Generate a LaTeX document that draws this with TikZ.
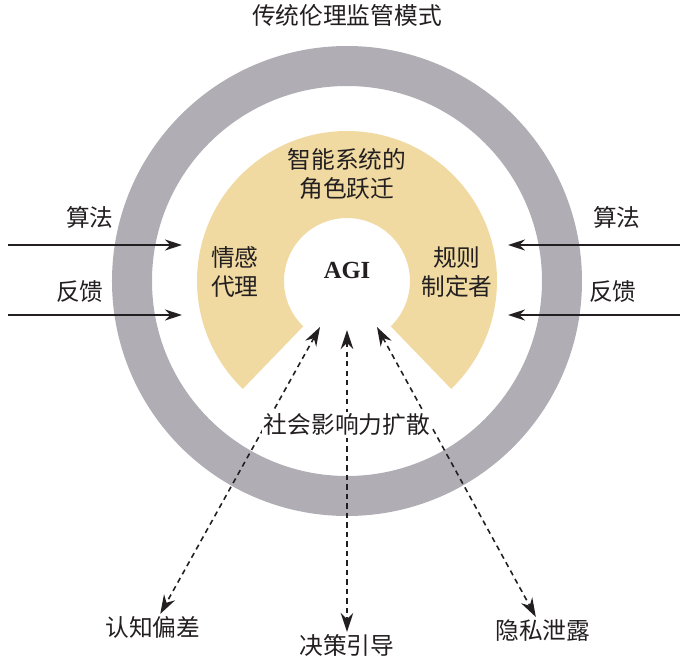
\documentclass[tikz,border=0pt]{standalone}
\usepackage{fontspec}
\setmainfont{Liberation Serif}
\newfontfamily\cjk{Noto Sans CJK SC}
\usepackage{tikz}
\usetikzlibrary{arrows.meta}
\definecolor{ringgrey}{HTML}{B0AEB4}
\definecolor{rolegold}{HTML}{F0DAA2}
\definecolor{inkdark}{HTML}{231F20}

\begin{document}
\begin{tikzpicture}[x=0.02cm, y=0.02cm,
  lbl/.style    ={text=inkdark, inner sep=1pt, align=center,
                  font=\cjk\fontsize{13.5}{16.5}\selectfont},
  agi/.style    ={text=inkdark, inner sep=1pt,
                  font=\fontsize{14}{16}\selectfont\bfseries},
  feed/.style   ={-{Stealth[length=3.4mm, width=2.2mm]}, inkdark, line width=1pt},
  spread/.style ={{Stealth[length=3.8mm, width=2.5mm]}-{Stealth[length=3.8mm, width=2.5mm]},
                  inkdark, line width=0.9pt, dash pattern=on 3pt off 2.4pt}
]
  \useasboundingbox (-347,-379) rectangle (334,281);
  % rings
  \fill[ringgrey, even odd rule] (0,0) circle (235) (0,0) circle (195);
  \fill[rolegold] (-46:150) arc (-46:226:150) -- (226:63) arc (226:-46:63) -- cycle;

  \node[lbl]  (title) at (0,266)  {传统伦理监管模式};
  \node[lbl]  (role)  at (0,107)  {智能系统的\\角色跃迁};
  \node[lbl]  (emo)   at (-112,9) {情感\\代理};
  \node[lbl]  (rule)  at (110,9)  {规则\\制定者};
  \node[agi]  (core)  at (0,11)   {AGI};

  % inputs
  \node[lbl] (algL) at (-257,64)  {算法};
  \node[lbl] (fbL)  at (-267,-11) {反馈};
  \node[lbl] (algR) at (270,64)   {算法};
  \node[lbl] (fbR)  at (266,-11)  {反馈};
  \coordinate (algLs) at (-339,36);  \coordinate (algLe) at (-165,36);
  \coordinate (fbLs)  at (-339,-34); \coordinate (fbLe)  at (-165,-34);
  \coordinate (algRs) at (333,36);   \coordinate (algRe) at (161,36);
  \coordinate (fbRs)  at (333,-34);  \coordinate (fbRe)  at (161,-34);
  \draw[feed] (algLs) -- (algLe);
  \draw[feed] (fbLs)  -- (fbLe);
  \draw[feed] (algRs) -- (algRe);
  \draw[feed] (fbRs)  -- (fbRe);

  % outcomes
  \node[lbl] (bias)  at (-194,-346) {认知偏差};
  \node[lbl] (guide) at (0,-364)    {决策引导};
  \node[lbl] (leak)  at (196,-349)  {隐私泄露};
  \coordinate (inL) at (-27,-46);
  \coordinate (inM) at (0,-49);
  \coordinate (inR) at (30,-46);
  \draw[spread] (inL) -- (bias);
  \draw[spread] (inM) -- (guide);
  \draw[spread] (inR) -- (leak);
  \node[lbl, fill=white] (soc) at (0,-144) {社会影响力扩散};
\end{tikzpicture}
\end{document}
